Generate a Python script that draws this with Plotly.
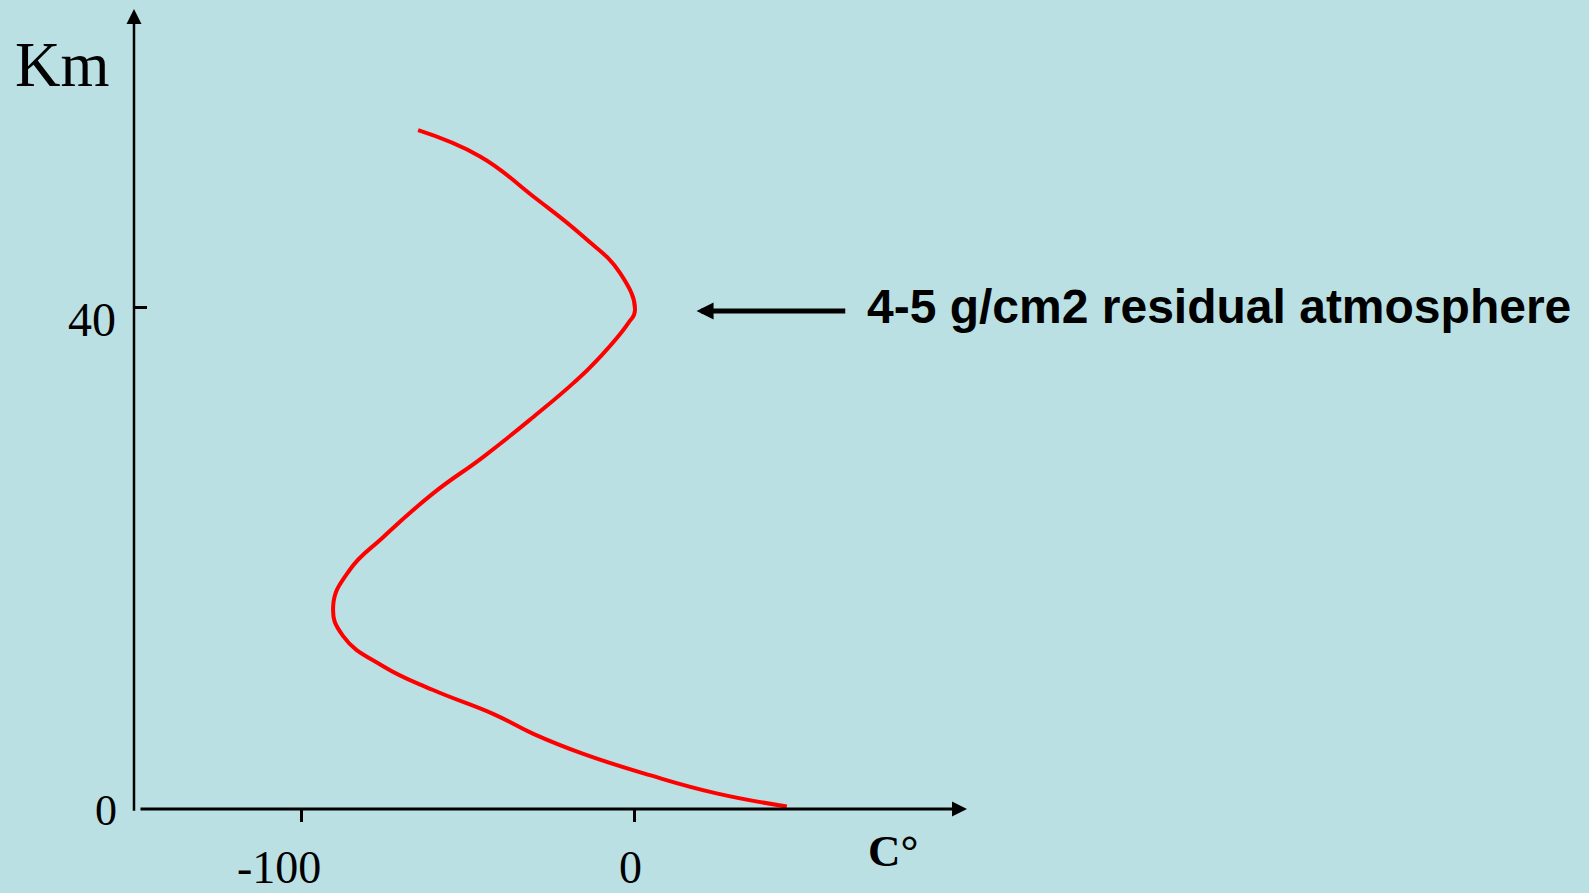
import plotly.graph_objects as go

# Temperature profile of the atmosphere: temperature (°C) against altitude (km)
temp_c = [-65.1, -46.5, -30.5, -15.5, -4.5, 0.0, -2.0, -11.5, -18.5, -30.5,
          -45.6, -60.6, -75.6, -85.6, -90.6, -87.6, -75.6, -60.6, -42.6,
          -30.5, -15.5, 4.5, 24.5, 45.6]
alt_km = [54.2, 52.1, 48.9, 45.7, 42.8, 39.8, 38.8, 35.8, 34.0, 31.3,
          28.1, 25.2, 21.7, 19.1, 16.2, 13.8, 11.4, 9.5, 7.6,
          6.0, 4.4, 2.7, 1.25, 0.2]

x_tick_vals = [-100, 0]
x_tick_text = ["-100", "0"]
y_tick_vals = [40]
y_label_vals = [40, 0]
y_label_text = ["40", "0"]

x_title = "C°"
y_title = "Km"
note_text = "4-5 g/cm2 residual atmosphere"
note_alt = 39.75          # altitude the note arrow points at
note_arrow_from = 63.6    # temperature where the note arrow starts
note_arrow_to = 18.5      # temperature of the note arrow tip

X_RANGE = [-150.4, 99.7]
Y_RANGE = [0, 63.87]

BG = "#BAE0E3"
SERIF = "Liberation Serif, Times New Roman, serif"
SANS = "Liberation Sans, Arial, sans-serif"

fig = go.Figure()
fig.add_trace(go.Scatter(
    x=temp_c, y=alt_km, mode="lines",
    line=dict(color="#FF0000", width=4, shape="spline", smoothing=1.3),
    hoverinfo="skip", showlegend=False,
))

annotations = []

# axis lines with arrowheads
annotations.append(dict(
    x=X_RANGE[0], y=Y_RANGE[1], ax=X_RANGE[0], ay=-0.25,
    xref="x", yref="y", axref="x", ayref="y", text="", showarrow=True,
    arrowhead=2, arrowsize=1.2, arrowwidth=2.5, arrowcolor="black", standoff=0,
))
annotations.append(dict(
    x=X_RANGE[1], y=0, ax=X_RANGE[0] + 1.5, ay=0,
    xref="x", yref="y", axref="x", ayref="y", text="", showarrow=True,
    arrowhead=2, arrowsize=1.0, arrowwidth=3, arrowcolor="black", standoff=0,
))

# x tick labels
x_label_shift = [(-23, -58.5), (-4, -58.5)]
for v, t, (dx, dy) in zip(x_tick_vals, x_tick_text, x_label_shift):
    annotations.append(dict(
        x=v, y=0, xref="x", yref="y", text=t, showarrow=False,
        xanchor="center", yanchor="middle", xshift=dx, yshift=dy,
        font=dict(family=SERIF, size=46, color="black"),
    ))

# y tick labels
y_label_style = [(-42.5, -12, 48), (-28, -1, 44)]
for v, t, (dx, dy, fs) in zip(y_label_vals, y_label_text, y_label_style):
    annotations.append(dict(
        x=X_RANGE[0], y=v, xref="x", yref="y", text=t, showarrow=False,
        xanchor="center", yanchor="middle", xshift=dx, yshift=dy,
        font=dict(family=SERIF, size=fs, color="black"),
    ))

# axis titles
annotations.append(dict(
    x=X_RANGE[1], y=0, xref="x", yref="y", text=f"<b>{x_title}</b>",
    showarrow=False, xanchor="center", yanchor="middle",
    xshift=-74, yshift=-41.5,
    font=dict(family=SERIF, size=45, color="black"),
))
annotations.append(dict(
    x=X_RANGE[0], y=Y_RANGE[1], xref="x", yref="y", text=y_title,
    showarrow=False, xanchor="center", yanchor="middle",
    xshift=-72, yshift=-56,
    font=dict(family=SERIF, size=63, color="black"),
))

# note arrow and text
annotations.append(dict(
    x=note_arrow_to, y=note_alt, ax=note_arrow_from, ay=note_alt,
    xref="x", yref="y", axref="x", ayref="y", text="", showarrow=True,
    arrowhead=2, arrowsize=0.68, arrowwidth=5, arrowcolor="black", standoff=0,
))
annotations.append(dict(
    x=note_arrow_from, y=note_alt, xref="x", yref="y",
    text=f"<b>{note_text}</b>", showarrow=False,
    xanchor="left", yanchor="middle", xshift=18, yshift=5,
    font=dict(family=SANS, size=48, color="black"),
))

fig.update_layout(
    width=1589, height=893,
    margin=dict(l=134, r=622, t=9, b=84, pad=0),
    paper_bgcolor=BG, plot_bgcolor=BG,
    xaxis=dict(range=X_RANGE, showgrid=False, zeroline=False, showline=False,
               tickvals=x_tick_vals, ticks="outside", ticklen=12, tickwidth=2.5,
               tickcolor="black", showticklabels=False, fixedrange=True),
    yaxis=dict(range=Y_RANGE, showgrid=False, zeroline=False, showline=False,
               tickvals=y_tick_vals, ticks="inside", ticklen=13, tickwidth=3,
               tickcolor="black", showticklabels=False, fixedrange=True),
    annotations=annotations,
    showlegend=False,
)

fig.write_html("out.html", config={"displayModeBar": False})
